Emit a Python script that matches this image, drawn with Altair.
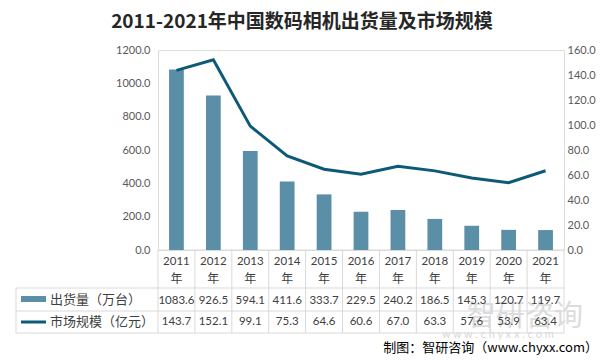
import altair as alt
import pandas as pd

years = ["2011", "2012", "2013", "2014", "2015", "2016", "2017", "2018", "2019", "2020", "2021"]
shipments = [1083.6, 926.5, 594.1, 411.6, 333.7, 229.5, 240.2, 186.5, 145.3, 120.7, 119.7]
market = [143.7, 152.1, 99.1, 75.3, 64.6, 60.6, 67.0, 63.3, 57.6, 53.9, 63.4]
series_names = ["出货量（万台）", "市场规模（亿元）"]
title_text = "2011-2021年中国数码相机出货量及市场规模"
source_text = "制图：智研咨询（www.chyxx.com）"

BAR = "#5b8fa8"
LINE = "#0d5a78"
GRID = "#d9d9d9"
CJK = "Noto Sans CJK SC"
NUM = "Lato"

df = pd.DataFrame({"year": years, "shipments": shipments, "market": market})
one = lambda **kw: pd.DataFrame({k: [v] for k, v in kw.items()}) if kw else pd.DataFrame({"k": [0]})

xenc = alt.X("year:N", sort=years, scale=alt.Scale(paddingInner=0, paddingOuter=0), axis=None)

bars = alt.Chart(df).mark_bar(color=BAR, width={"band": 0.4}).encode(
    x=xenc,
    y=alt.Y("shipments:Q", scale=alt.Scale(domain=[0, 1200]),
            axis=alt.Axis(values=[0, 200, 400, 600, 800, 1000, 1200], format=".1f", title=None,
                          domain=False, ticks=False, grid=False, labelColor="#595959",
                          labelFont=NUM, labelFontSize=11, labelPadding=8)),
)

line = alt.Chart(df).mark_line(color=LINE, strokeWidth=3).encode(
    x=xenc,
    y=alt.Y("market:Q", scale=alt.Scale(domain=[0, 160]),
            axis=alt.Axis(orient="right", values=[0, 20, 40, 60, 80, 100, 120, 140, 160], format=".1f",
                          title=None, domain=False, ticks=False, grid=False, labelColor="#595959",
                          labelFont=NUM, labelFontSize=11, labelPadding=3)),
)

axis_line = alt.Chart(one()).mark_rule(color=GRID, strokeWidth=1).encode(
    x=alt.value(0), x2=alt.value(406), y=alt.value(200))

vlines = alt.Chart(df).mark_rule(color=GRID, strokeWidth=1).encode(
    x=alt.X("year:N", sort=years, bandPosition=0, axis=None), y=alt.value(200), y2=alt.value(283))
vline_end = alt.Chart(one()).mark_rule(color=GRID).encode(
    x=alt.value(406), y=alt.value(200), y2=alt.value(283))
vline_left = alt.Chart(one()).mark_rule(color=GRID).encode(
    x=alt.value(-142), y=alt.value(238), y2=alt.value(283))
hl1 = alt.Chart(one()).mark_rule(color=GRID).encode(x=alt.value(-142), x2=alt.value(406), y=alt.value(238))
hl2 = alt.Chart(one()).mark_rule(color=GRID).encode(x=alt.value(-142), x2=alt.value(406), y=alt.value(261))
hl3 = alt.Chart(one()).mark_rule(color=GRID).encode(x=alt.value(-142), x2=alt.value(406), y=alt.value(283))

year_lbl = alt.Chart(df).mark_text(font=NUM, fontSize=11.5, color="#404040").encode(
    x=alt.X("year:N", sort=years, axis=None), y=alt.value(212), text="year:N")
nian_lbl = alt.Chart(df).mark_text(font=CJK, fontSize=12, color="#404040").encode(
    x=alt.X("year:N", sort=years, axis=None), y=alt.value(229), text=alt.value("年"))
row1 = alt.Chart(df).mark_text(font=NUM, fontSize=11.5, color="#404040").encode(
    x=alt.X("year:N", sort=years, axis=None), y=alt.value(251), text=alt.Text("shipments:Q", format=".1f"))
row2 = alt.Chart(df).mark_text(font=NUM, fontSize=11.5, color="#404040").encode(
    x=alt.X("year:N", sort=years, axis=None), y=alt.value(272), text=alt.Text("market:Q", format=".1f"))

sw_bar = alt.Chart(one()).mark_rect(color=BAR).encode(
    x=alt.value(-137), x2=alt.value(-112), y=alt.value(246), y2=alt.value(252))
sw_line = alt.Chart(one()).mark_rule(color=LINE, strokeWidth=3).encode(
    x=alt.value(-137), x2=alt.value(-112), y=alt.value(272))
leg1 = alt.Chart(one(t=series_names[0])).mark_text(font=CJK, fontSize=13, color="#404040", align="left").encode(
    x=alt.value(-108), y=alt.value(250), text="t:N")
leg2 = alt.Chart(one(t=series_names[1])).mark_text(font=CJK, fontSize=13, color="#404040", align="left").encode(
    x=alt.value(-108), y=alt.value(272), text="t:N")

wm1 = alt.Chart(one(t="智研咨询")).mark_text(font=CJK, fontSize=29, color="#d4d4d4", opacity=0.8, align="left").encode(
    x=alt.value(309), y=alt.value(267), text="t:N")
wm2 = alt.Chart(one(t="w w w . c h y x x . c o m")).mark_text(font=NUM, fontSize=11, color="#d0d0d0", opacity=0.8, align="left").encode(
    x=alt.value(284), y=alt.value(285), text="t:N")

title = alt.Chart(one(t=title_text)).mark_text(font=CJK, fontSize=19, fontWeight="bold", color="#262626").encode(
    x=alt.value(144), y=alt.value(-28), text="t:N")
source = alt.Chart(one(t=source_text)).mark_text(font=CJK, fontSize=13, color="#000000", align="right").encode(
    x=alt.value(440), y=alt.value(298), text="t:N")

chart = alt.layer(
    wm1, wm2, axis_line, vlines, vline_end, vline_left, hl1, hl2, hl3,
    bars, line, year_lbl, nian_lbl, row1, row2, sw_bar, sw_line, leg1, leg2, title, source,
).resolve_scale(y="independent").properties(
    width=406, height=200,
    autosize=alt.AutoSizeParams(type="none"),
    padding={"left": 150, "top": 42, "right": 34, "bottom": 106},
).configure_view(stroke=None).configure(background="white")

chart.save("out.html", embed_options={"renderer": "svg", "actions": False})
